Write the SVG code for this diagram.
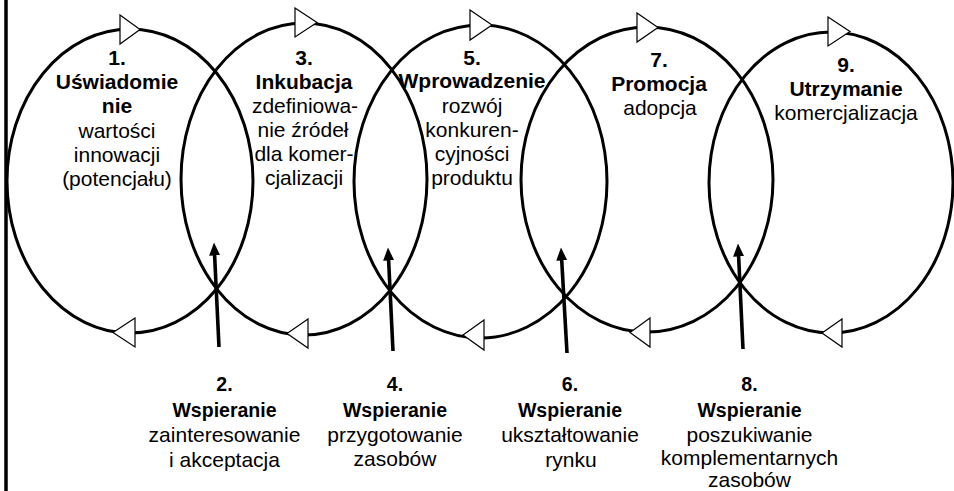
<svg xmlns="http://www.w3.org/2000/svg" width="954" height="491" viewBox="0 0 954 491">
<style>
.ring{fill:none;stroke:#000;stroke-width:3}
.tri{fill:#fff;stroke:#000;stroke-width:1.2;stroke-linejoin:miter}
text{font-family:"Liberation Sans",Arial,sans-serif;font-size:21px;fill:#000;text-anchor:middle}
.b{font-weight:bold}
.bs{font-weight:bold;font-size:19.5px}
.arr{stroke:#000;stroke-width:3.6;fill:none}
</style>
<defs>
<marker id="ah" markerUnits="userSpaceOnUse" markerWidth="13" markerHeight="11" refX="0.5" refY="5.5" orient="auto" viewBox="0 0 13 11">
<path d="M0 0 L13 5.5 L0 11 Z" fill="#000"/>
</marker>
</defs>
<rect width="954" height="491" fill="#fff"/>
<line x1="6" y1="0" x2="6" y2="491" stroke="#000" stroke-width="3.5"/>

<g id="node1">
<ellipse class="ring" cx="130" cy="181" rx="123" ry="152"/>
<polygon class="tri" points="120,15 140,29.5 120,44"/>
<polygon class="tri" points="135,318 113,332.5 135,347"/>
<text class="b" x="117" y="65">1.</text>
<text class="b" x="117" y="89">Uświadomie</text>
<text class="b" x="117" y="113">nie</text>
<text x="117" y="138">wartości</text>
<text x="117" y="162">innowacji</text>
<text x="117" y="186">(potencjału)</text>
</g>

<g id="node3">
<ellipse class="ring" cx="304" cy="179" rx="123" ry="156"/>
<polygon class="tri" points="295,8 317,22.5 295,37"/>
<polygon class="tri" points="308,319 287,333.5 308,348"/>
<text class="b" x="304" y="65">3.</text>
<text class="b" x="304" y="89">Inkubacja</text>
<text x="305" y="113">zdefiniowa-</text>
<text x="303" y="137">nie źródeł</text>
<text x="304" y="161">dla komer-</text>
<text x="304" y="185">cjalizacji</text>
</g>

<g id="node5">
<ellipse class="ring" cx="480.5" cy="181.5" rx="126.5" ry="156.5"/>
<polygon class="tri" points="470,10 492,25 470,40"/>
<polygon class="tri" points="484,320 463,335 484,350"/>
<text class="b" x="472" y="65">5.</text>
<text class="b" x="472" y="88">Wprowadzenie</text>
<text x="472" y="113">rozwój</text>
<text x="472" y="137">konkuren-</text>
<text x="472" y="161">cyjności</text>
<text x="472" y="185">produktu</text>
</g>

<g id="node7">
<ellipse class="ring" cx="647" cy="179.5" rx="126" ry="152.5"/>
<polygon class="tri" points="637,13 658,27.5 637,42"/>
<polygon class="tri" points="650,318 630,332.5 650,347"/>
<text class="b" x="659" y="67">7.</text>
<text class="b" x="659" y="91">Promocja</text>
<text x="660" y="115">adopcja</text>
</g>

<g id="node9">
<ellipse class="ring" cx="831" cy="182.5" rx="122" ry="150.5"/>
<polygon class="tri" points="828,17 850,31.5 828,46"/>
<polygon class="tri" points="842,319 822,333 842,347"/>
<text class="b" x="846" y="72">9.</text>
<text class="b" x="846" y="96">Utrzymanie</text>
<text x="846" y="120">komercjalizacja</text>
</g>

<g id="connectors">
<line class="arr" x1="219" y1="347" x2="214.6" y2="255" marker-end="url(#ah)"/>
<line class="arr" x1="393" y1="351" x2="388.6" y2="260" marker-end="url(#ah)"/>
<line class="arr" x1="567" y1="353" x2="561.7" y2="260" marker-end="url(#ah)"/>
<line class="arr" x1="743" y1="349" x2="738.6" y2="256" marker-end="url(#ah)"/>
</g>

<g id="node2">
<text class="bs" x="224.5" y="391">2.</text>
<text class="bs" x="224.5" y="416.5">Wspieranie</text>
<text x="224.5" y="442">zainteresowanie</text>
<text x="224.5" y="467">i akceptacja</text>
</g>

<g id="node4">
<text class="bs" x="395" y="391">4.</text>
<text class="bs" x="395" y="416.5">Wspieranie</text>
<text x="395" y="442">przygotowanie</text>
<text x="395" y="466">zasobów</text>
</g>

<g id="node6">
<text class="bs" x="570" y="391">6.</text>
<text class="bs" x="570" y="416.5">Wspieranie</text>
<text x="570" y="442">ukształtowanie</text>
<text x="571" y="467">rynku</text>
</g>

<g id="node8">
<text class="bs" x="749.5" y="391">8.</text>
<text class="bs" x="749.5" y="416.5">Wspieranie</text>
<text x="749.5" y="442">poszukiwanie</text>
<text x="749.5" y="465">komplementarnych</text>
<text x="749.5" y="487">zasobów</text>
</g>
</svg>
